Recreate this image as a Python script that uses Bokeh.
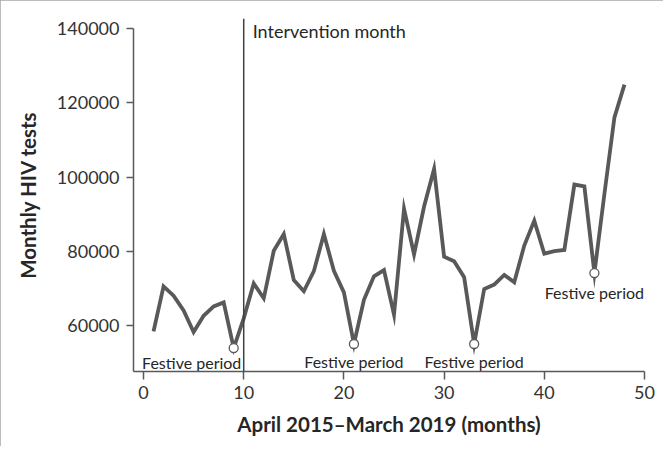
from bokeh.plotting import figure
from bokeh.models import Span, ColumnDataSource, NumeralTickFormatter, FixedTicker, Range1d
from bokeh.core.properties import value
from bokeh.embed import file_html
from bokeh.resources import INLINE

# ---- data ----
months = list(range(1, 49))
tests = [58500, 70600, 68100, 64100, 58300, 62700, 65200, 66300, 54000, 62000,
         71400, 67400, 80200, 84700, 72300, 69300, 74700, 84700, 74800, 69000,
         55100, 67000, 73300, 75000, 63000, 91500, 79200, 92100, 102200, 78600,
         77400, 73100, 55100, 69900, 71100, 73700, 71700, 81600, 88300, 79400,
         80100, 80400, 98000, 97500, 74200, 95500, 116100, 124900]
festive_months = [9, 21, 33, 45]
festive_labels = ["Festive period"] * 4
intervention_month = 10
intervention_label = "Intervention month"
x_ticks = [0, 10, 20, 30, 40, 50]
y_ticks = [60000, 80000, 100000, 120000, 140000]

festive_values = [tests[months.index(m)] for m in festive_months]

FONT = "Lato"
LINE = "#595959"
TEXT = "#262626"
W, H = 663, 446

p = figure(width=W, height=H, output_backend="svg", toolbar_location=None,
           x_range=Range1d(-1, 50), y_range=Range1d(47700, 142700),
           min_border_left=133, min_border_right=19, min_border_top=18,
           min_border_bottom=75,
           styles={"outline": "2px solid #a6a6a6", "outline-offset": "-2px"})
p.outline_line_color = None
p.grid.grid_line_color = None
p.background_fill_color = "white"
p.border_fill_color = "white"

p.line(months, tests, line_color=LINE, line_width=3.8, line_join="miter")

p.add_layout(Span(location=intervention_month, dimension="height",
                  line_color="#404040", line_width=1.5))

src = ColumnDataSource(dict(x=festive_months, y=festive_values, t=festive_labels,
                            xo=[-42, 0, 0, 0], yo=[14, 17, 17, 19]))
p.scatter("x", "y", source=src, size=9, fill_color="white", line_color=LINE,
          line_width=1.3)
p.text("x", "y", text="t", source=src, x_offset="xo", y_offset="yo",
       text_align="center", text_baseline="middle", text_font=value(FONT),
       text_font_size="16px", text_color=TEXT)

p.text([intervention_month], [y_ticks[-1]], text=[intervention_label], x_offset=9,
       y_offset=2, text_align="left", text_baseline="middle",
       text_font=value(FONT), text_font_size="18px", text_color=TEXT)

for ax in (p.xaxis[0], p.yaxis[0]):
    ax.axis_line_color = LINE
    ax.axis_line_width = 1.5
    ax.major_tick_line_color = LINE
    ax.major_tick_line_width = 1.5
    ax.minor_tick_line_color = None
    ax.major_tick_in = 0
    ax.major_label_text_font = FONT
    ax.major_label_text_font_size = "18px"
    ax.major_label_text_color = "#333333"
    ax.axis_label_text_font = FONT
    ax.axis_label_text_font_style = "bold"
    ax.axis_label_text_color = TEXT

p.xaxis.axis_label_text_font_size = "20.5px"
p.yaxis.axis_label_text_font_size = "20.5px"
p.xaxis.ticker = FixedTicker(ticks=x_ticks)
p.yaxis.ticker = FixedTicker(ticks=y_ticks)
p.yaxis.formatter = NumeralTickFormatter(format="0")
p.xaxis.major_tick_out = 8
p.yaxis.major_tick_out = 7
p.xaxis.major_label_standoff = 6
p.yaxis.major_label_standoff = 7
p.yaxis.bounds = (47700, y_ticks[-1])
p.xaxis.axis_label = "April 2015\u2013March 2019 (months)"
p.yaxis.axis_label = "Monthly HIV tests"
p.xaxis.axis_label_standoff = 10
p.yaxis.axis_label_standoff = 14

open("out.html", "w").write(file_html(p, INLINE))
